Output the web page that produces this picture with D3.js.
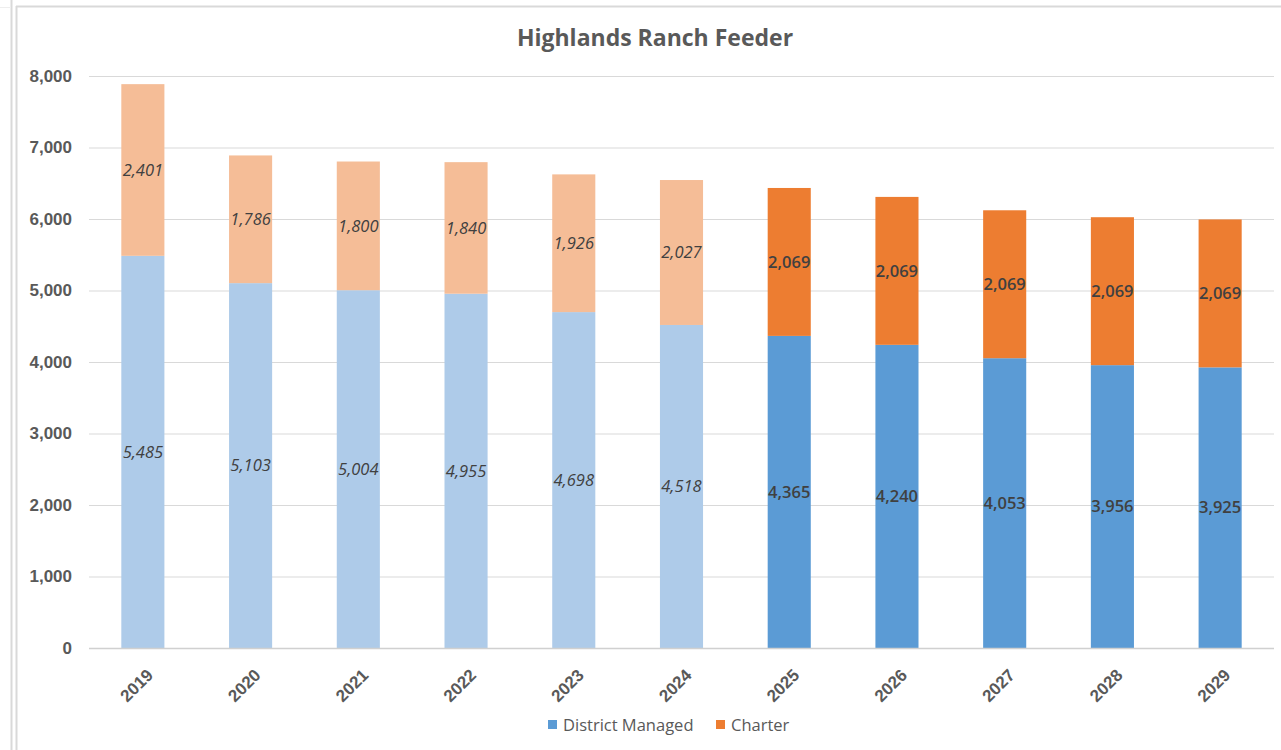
<!DOCTYPE html>
<html><head><meta charset="utf-8">
<script src="https://cdn.jsdelivr.net/npm/d3@7"></script>
<style>
html,body{margin:0;padding:0;background:#fff;}
svg{display:block;font-family:"Open Sans","Noto Sans",sans-serif;}
</style></head>
<body><svg id="c" width="1281" height="750"></svg>
<script>
const years = ["2019","2020","2021","2022","2023","2024","2025","2026","2027","2028","2029"];
const districtManaged = [5485,5103,5004,4955,4698,4518,4365,4240,4053,3956,3925];
const charter = [2401,1786,1800,1840,1926,2027,2069,2069,2069,2069,2069];
const projected = [false,false,false,false,false,false,true,true,true,true,true];
const yTicks = [0,1000,2000,3000,4000,5000,6000,7000,8000];
const seriesNames = ["District Managed","Charter"];

const svg = d3.select("#c");
// frame lines
svg.append("line").attr("x1",11.5).attr("x2",11.5).attr("y1",0).attr("y2",750).attr("stroke","#d9d9d9").attr("stroke-width",2);
svg.append("line").attr("x1",16.5).attr("x2",16.5).attr("y1",6).attr("y2",750).attr("stroke","#d9d9d9").attr("stroke-width",2);
svg.append("line").attr("x1",16).attr("x2",1281).attr("y1",6.5).attr("y2",6.5).attr("stroke","#d9d9d9").attr("stroke-width",2);
svg.append("line").attr("x1",0).attr("x2",11).attr("y1",7.5).attr("y2",7.5).attr("stroke","#eeeeee").attr("stroke-width",1);

const x = d3.scaleBand().domain(years).range([89,1274]).paddingInner(0.6).paddingOuter(0.3);
const y = d3.scaleLinear().domain([0,8000]).range([648,76]);

// gridlines
const grid = svg.append("g").attr("transform","translate(89,0)")
  .call(d3.axisLeft(y).tickValues(yTicks).tickSize(-(1274-89)).tickFormat(""));
grid.select(".domain").remove();
grid.selectAll(".tick line").attr("stroke","#d9d9d9").attr("stroke-width",1.2);

// y labels
const ya = svg.append("g").attr("transform","translate(89,0)")
  .call(d3.axisLeft(y).tickValues(yTicks).tickSize(0).tickPadding(17).tickFormat(d3.format(",")));
ya.select(".domain").remove();
ya.selectAll("text").attr("font-size",17).attr("fill","#595959").attr("font-weight",600);

const data = years.map((yr,i)=>({yr, d:districtManaged[i], c:charter[i], p:projected[i]}));
const colors = {dHist:"#aecbe9", cHist:"#f5bd97", d:"#5b9bd5", c:"#ed7d31"};

const g = svg.append("g");
g.selectAll(".bd").data(data).join("rect")
  .attr("x",d=>x(d.yr)).attr("width",x.bandwidth())
  .attr("y",d=>y(d.d)).attr("height",d=>y(0)-y(d.d))
  .attr("fill",d=>d.p?colors.d:colors.dHist);
g.selectAll(".bc").data(data).join("rect")
  .attr("x",d=>x(d.yr)).attr("width",x.bandwidth())
  .attr("y",d=>y(d.d+d.c)).attr("height",d=>y(d.d)-y(d.d+d.c))
  .attr("fill",d=>d.p?colors.c:colors.cHist);

const fmt = d3.format(",");
const lab = svg.append("g").attr("font-size",16.5).attr("fill","#404040").attr("text-anchor","middle");
data.forEach(d=>{
  const cx = x(d.yr)+x.bandwidth()/2;
  lab.append("text").attr("x",cx).attr("y",(y(0)+y(d.d))/2).attr("dy","0.35em")
    .attr("font-style",d.p?"normal":"italic").attr("font-weight",d.p?600:400).text(fmt(d.d));
  lab.append("text").attr("x",cx).attr("y",(y(d.d)+y(d.d+d.c))/2).attr("dy","0.35em")
    .attr("font-style",d.p?"normal":"italic").attr("font-weight",d.p?600:400).text(fmt(d.c));
});

// baseline
svg.append("line").attr("x1",89).attr("x2",1274).attr("y1",y(0)+0.5).attr("y2",y(0)+0.5).attr("stroke","#d0d0d0").attr("stroke-width",1.5);

// x labels
const xa = svg.append("g").attr("transform",`translate(0,${y(0)})`)
  .call(d3.axisBottom(x).tickSize(0).tickFormat(d=>d));
xa.select(".domain").remove();
xa.selectAll("text").attr("font-size",17).attr("fill","#595959").attr("font-weight",600)
  .attr("text-anchor","end").attr("dy","0.35em").attr("y",0)
  .attr("transform","translate(7,24) rotate(-45)");

// title
svg.append("text").attr("x",655).attr("y",46).attr("text-anchor","middle")
  .attr("font-size",23).attr("font-weight",700).attr("fill","#595959").text("Highlands Ranch Feeder");

// legend
const leg = svg.append("g").attr("font-size",16.5).attr("fill","#595959");
const legItems = [{n:seriesNames[0],c:colors.d,x:548},{n:seriesNames[1],c:colors.c,x:716}];
legItems.forEach(it=>{
  leg.append("rect").attr("x",it.x).attr("y",720).attr("width",9).attr("height",9).attr("fill",it.c);
  leg.append("text").attr("x",it.x+15).attr("y",725).attr("dy","0.35em").attr("fill","#595959").text(it.n);
});
</script></body></html>
